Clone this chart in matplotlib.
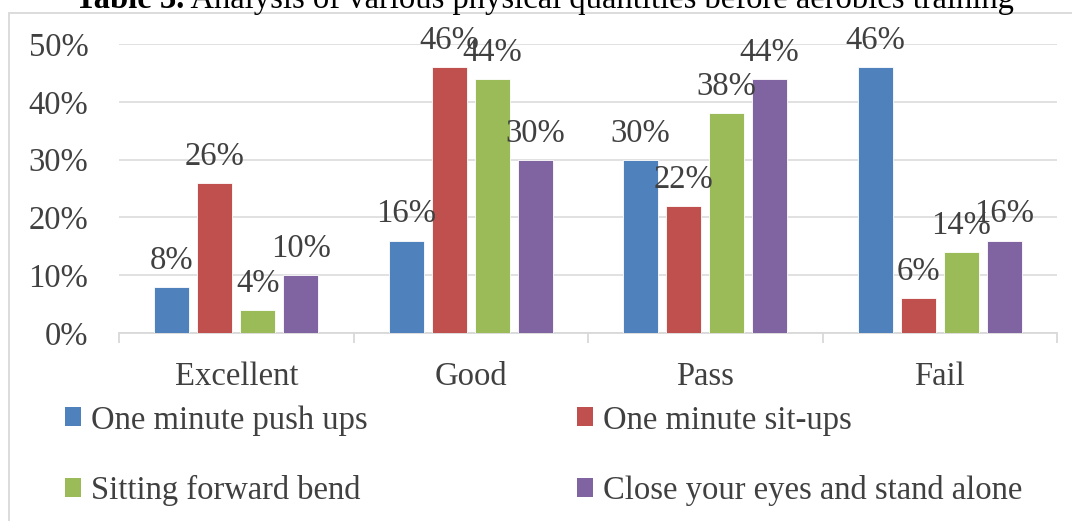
import matplotlib
import numpy as np
from matplotlib import pyplot as plt
from matplotlib.patches import Rectangle
from matplotlib.ticker import FixedLocator, FuncFormatter, MultipleLocator

matplotlib.use("Agg")

# Chart data (percent)
categories = ["Excellent", "Good", "Pass", "Fail"]
series_names = [
    "One minute push ups",
    "One minute sit-ups",
    "Sitting forward bend",
    "Close your eyes and stand alone",
]
push_ups = [8, 16, 30, 46]
sit_ups = [26, 46, 22, 6]
forward_bend = [4, 44, 38, 14]
eyes_closed = [10, 30, 44, 16]

title_bold = "Table 3."
title_rest = " Analysis of various physical quantities before aerobics training"

COLORS = ["#4F81BD", "#C0504D", "#9BBB59", "#8064A2"]
GRID = "#D9D9D9"
TEXT = "#404040"
FONT = "Liberation Serif"
FS = 23.5


def plot_chart() -> None:
    """
    Grouped bar chart with value labels, legend below the axes.
    """
    plt.rcParams["font.family"] = [FONT, "DejaVu Serif"]

    W, H = 1072, 521
    fig = plt.figure(figsize=(W / 100, H / 100), dpi=100)
    ax = fig.add_axes([119 / W, 1 - 333 / H, (1057 - 119) / W, (333 - 44) / H])

    # Outer chart frame (only left/top edges visible in the crop)
    fig.patches.append(
        Rectangle(
            (8.5 / W, -0.2),
            1.5,
            1.2 - 12.5 / H,
            transform=fig.transFigure,
            fill=False,
            edgecolor=GRID,
            linewidth=1.3,
        )
    )

    # Title, mostly cut off at the top edge
    t = fig.text(
        75 / W, 1 - 8 / H, title_bold, fontsize=FS, fontweight="bold",
        color="black", va="baseline", ha="left",
    )
    fig.canvas.draw()
    bb = t.get_window_extent()
    fig.text(
        bb.x1 / W, 1 - 8 / H, title_rest, fontsize=FS,
        color="black", va="baseline", ha="left",
    )

    all_series = [push_ups, sit_ups, forward_bend, eyes_closed]
    x = np.arange(len(categories))
    step = 43 / 234.5
    width = 0.148
    handles = []
    for i, (name, vals) in enumerate(zip(series_names, all_series)):
        pos = x + (i - 1.5) * step
        bars = ax.bar(
            pos, vals, width=width, color=COLORS[i],
            edgecolor="white", linewidth=0.6, label=name, zorder=3,
        )
        handles.append(bars)
        for xp, v in zip(pos, vals):
            ax.annotate(
                f"{v}%", (xp, v), xytext=(0, 13), textcoords="offset points",
                ha="center", va="baseline", fontsize=FS, color=TEXT, zorder=4,
            )

    ax.set_xlim(-0.5, 3.5)
    ax.set_ylim(0, 50)
    ax.yaxis.set_major_locator(MultipleLocator(10))
    ax.yaxis.set_major_formatter(FuncFormatter(lambda v, _: f"{v:.0f}%"))
    ax.grid(axis="y", color=GRID, linewidth=1.1, zorder=0)
    ax.set_axisbelow(True)

    for side in ["top", "right", "left"]:
        ax.spines[side].set_visible(False)
    ax.spines["bottom"].set_color(GRID)
    ax.spines["bottom"].set_linewidth(1.3)

    ax.set_xticks(x)
    ax.set_xticklabels(categories)
    ax.xaxis.set_minor_locator(FixedLocator(np.arange(-0.5, 4, 1)))
    ax.tick_params(axis="x", which="major", length=0, pad=20.5, labelsize=FS, labelcolor=TEXT)
    ax.tick_params(axis="x", which="minor", length=7, width=1.3, color=GRID)
    ax.tick_params(axis="y", length=0, pad=22, labelsize=FS, labelcolor=TEXT)

    # Legend, row-wise order as in the original
    order = [0, 2, 1, 3]
    leg = fig.legend(
        [handles[k] for k in order],
        [series_names[k] for k in order],
        ncol=2,
        loc="upper left",
        bbox_to_anchor=(65 / W, 1 - 405 / H),
        frameon=False,
        fontsize=FS,
        handlelength=0.5,
        handleheight=0.52,
        handletextpad=0.3,
        columnspacing=6.4,
        labelspacing=1.22,
        borderpad=0,
        borderaxespad=0,
    )
    for txt in leg.get_texts():
        txt.set_color(TEXT)
    for p in leg.get_patches():
        p.set_edgecolor("none")

    fig.savefig("out.png", dpi=100)


if __name__ == "__main__":
    plot_chart()
